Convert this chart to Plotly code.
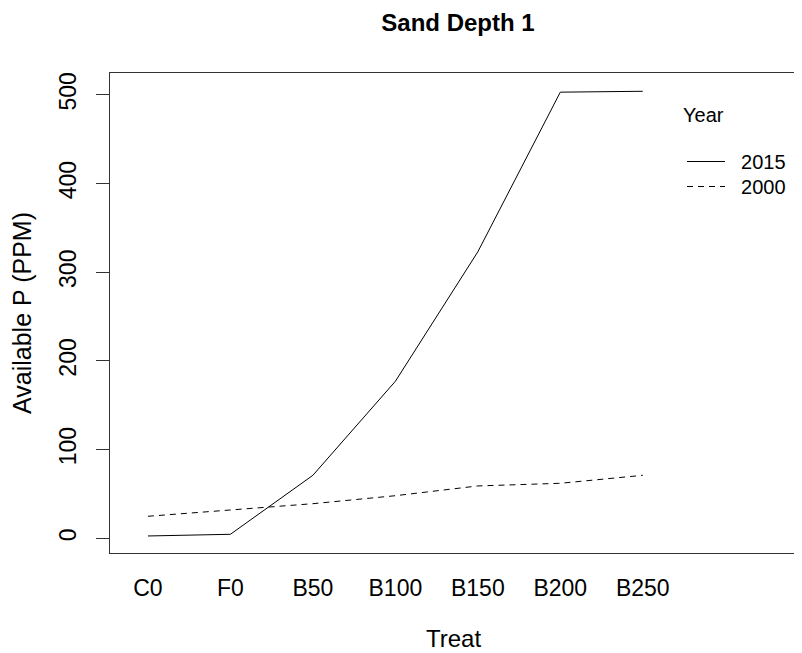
import plotly.graph_objects as go

treat = ["C0", "F0", "B50", "B100", "B150", "B200", "B250"]
p2015 = [2.6, 4.5, 71, 177, 323, 503, 504]
p2000 = [24.8, 32, 39, 48, 59, 62, 71]
years = ["2015", "2000"]
yticks = [0, 100, 200, 300, 400, 500]

xpos = list(range(1, len(treat) + 1))
FONT = "Liberation Sans, Arial, sans-serif"

OFF = 8  # page body margin
W, H = 802, 653
L, T = 110 - OFF, 73 - OFF
R = W - (797 - OFF)
B = H - (553 - OFF)
PW, PH = W - L - R, H - T - B


def px_x(sx):
    return (sx - OFF - L) / PW


def px_y(sy):
    return 1 - (sy - OFF - T) / PH


PAD = "\u00a0\u00a0"

fig = go.Figure()
fig.add_trace(go.Scatter(x=xpos, y=p2015, mode="lines", name=PAD + years[0],
                         legend="legend",
                         line=dict(color="black", width=1)))
fig.add_trace(go.Scatter(x=xpos, y=p2000, mode="lines", name=PAD + years[1],
                         legend="legend2",
                         line=dict(color="black", width=1, dash="6px,5px")))

leg_common = dict(xanchor="left", yanchor="middle", bgcolor="rgba(0,0,0,0)",
                  font=dict(size=20), itemwidth=38)

fig.update_layout(
    width=W, height=H,
    margin=dict(l=L, r=R, t=T, b=B, autoexpand=False),
    paper_bgcolor="white", plot_bgcolor="white",
    font=dict(family=FONT, size=23, color="black"),
    title=dict(text="<b>Sand Depth 1</b>", x=(458 - OFF) / W, xanchor="center",
               y=1 - (23 - OFF) / H, yanchor="middle", font=dict(size=24)),
    showlegend=True,
    legend=dict(x=px_x(682), y=px_y(161.5), **leg_common),
    legend2=dict(x=px_x(682), y=px_y(186.5), **leg_common),
    annotations=[dict(text="Year", xref="paper", yref="paper",
                      x=px_x(681), xanchor="left",
                      y=px_y(115), yanchor="middle",
                      showarrow=False, font=dict(size=20))],
)
fig.update_xaxes(
    range=[0.54, 8.87], tickmode="array", tickvals=xpos, ticktext=treat,
    ticks="", showgrid=False, zeroline=False, automargin=False,
    showline=True, mirror=True, linecolor="#333", linewidth=1,
    ticklabelstandoff=14, tickfont=dict(size=23),
    title=dict(text="Treat", standoff=30, font=dict(size=24)),
)
fig.update_yaxes(
    range=[-16.6, 524.6], tickmode="array", tickvals=yticks,
    ticks="outside", ticklen=13, tickcolor="#333", tickangle=-90,
    showgrid=False, zeroline=False, automargin=False,
    showline=True, mirror=True, linecolor="#333", linewidth=1,
    ticklabelstandoff=11, tickfont=dict(size=23),
    title=dict(text="Available P (PPM)", standoff=23, font=dict(size=25)),
)

fig.write_html("out.html")
